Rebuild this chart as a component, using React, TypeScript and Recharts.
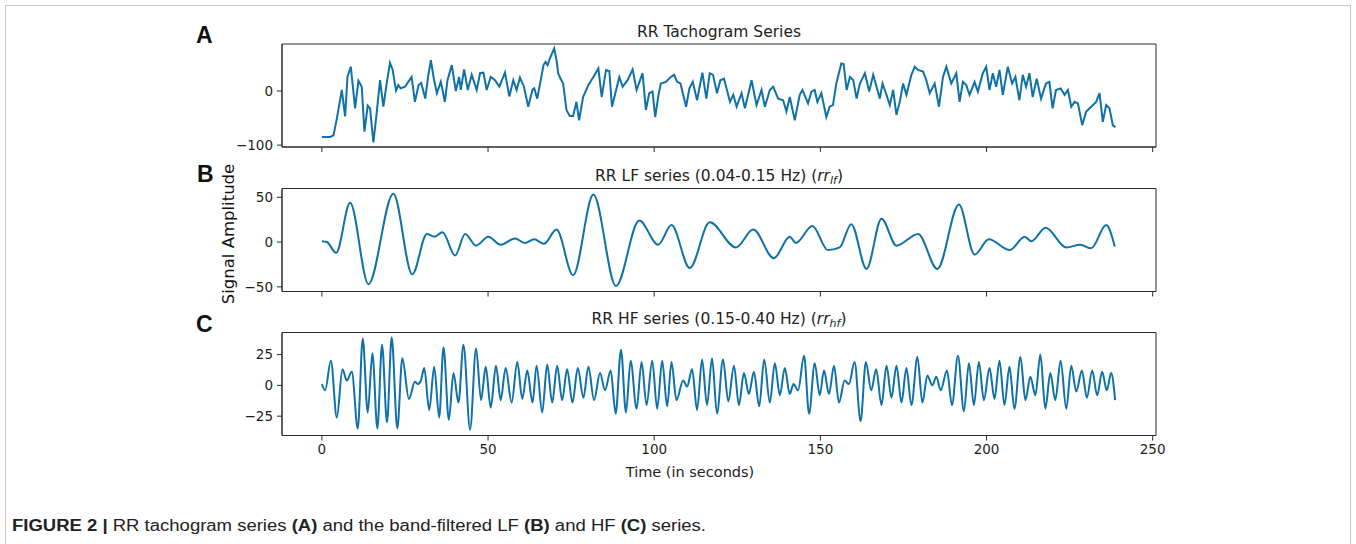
import { LineChart, Line, XAxis, YAxis, ReferenceArea } from 'recharts';

// RR tachogram (A) - read at turning points, seconds / amplitude
const tachoTime = [
  0, 2.5, 3.5, 4.5, 6, 7, 7.7, 8.7, 10, 11, 12, 12.8, 13.8, 14.5, 15.5, 16.5, 17.5, 18.5, 19.5, 20.5,
  21.3, 22.3, 23, 23.7, 25, 26, 27, 28, 29.1, 29.9, 31.1, 32.1, 32.8, 33.6, 34.6, 35.8, 37, 37.8, 39.1, 40.3,
  41.3, 41.8, 42.8, 43.9, 45.1, 46.6, 47.6, 48.6, 49.6, 50.8, 52.1, 53.4, 55.1, 56.4, 57.6, 58.6, 59.6, 60.8, 62.1, 63.4,
  63.9, 64.8, 66.7, 67.3, 67.9, 68.6, 69.9, 70.6, 71.1, 71.8, 72.6, 73.6, 74.6, 75.6, 76.6, 77.4, 78.6, 80.2, 81.7, 83.2,
  84.2, 85.5, 86.5, 87.3, 89.5, 90.5, 92, 93.5, 94.7, 96.5, 97.5, 98.5, 99.5, 100.3, 101.3, 102, 103.5, 105, 106, 106.9,
  107.9, 109.6, 110.6, 111.6, 112.9, 114.5, 115.7, 116.7, 117.7, 118.9, 119.9, 121, 122.8, 123.8, 124.8, 126.3, 127.3, 129.3, 130.8, 132.3,
  133.3, 134.8, 135.8, 137.3, 138.8, 139.8, 140.8, 142.3, 143.8, 144.6, 146.3, 147.3, 148.3, 149.1, 150.3, 151.8, 152.8, 153.8, 154.8, 156.3,
  157, 157.9, 158.9, 159.9, 160.9, 161.9, 163.4, 164.7, 165.9, 166.9, 167.9, 168.7, 169.9, 170.9, 171.9, 172.9, 173.9, 174.9, 175.9, 177.4,
  178.4, 179.4, 180.9, 181.9, 182.9, 184.4, 185.7, 186.9, 187.9, 189.4, 190.9, 191.9, 192.9, 193.9, 194.9, 196.4, 197.4, 198.9, 199.9, 200.9,
  201.9, 202.9, 203.9, 204.9, 206.4, 207.7, 208.7, 209.9, 210.9, 211.9, 212.9, 213.9, 215.1, 216.4, 217.9, 218.9, 219.9, 220.9, 222.3, 223.5,
  224.5, 225.5, 226.5, 227.5, 228.8, 230, 231.5, 233, 234, 235, 236, 237, 238, 238.8,
];
const tachoValue = [
  -85, -85, -82, -51, 2, -47, 26, 45, -32, 19, 8, -75, -27, -32, -95, -40, 20, -29, 14, 52,
  39, 1, 11, 5, 8, 17, 26, -20, 11, 15, -14, 32, 57, 26, -4, 17, -20, 20, 48, 0,
  26, 2, 40, 2, 30, 2, 33, 34, 2, 26, 20, 8, 34, -10, 20, 2, 25, 8, -29, 3,
  5, -14, 48, 54, 48, 60, 79, 57, 33, 23, 14, -35, -46, -46, -20, -54, -11, 11, 26, 42,
  -11, 39, 37, -29, 26, 8, 20, 40, 2, 33, -35, -4, -1, -48, -7, 14, 17, 26, 30, 17,
  14, -29, 5, 17, -17, 34, -14, 33, 30, -4, 20, 23, -20, -7, -29, -4, -32, 20, -26, 2,
  -29, 2, 8, -14, -17, -38, -11, -54, -7, 2, -23, -1, 2, -20, -4, -48, -29, -26, 14, 51,
  50, 2, 26, 20, -14, 14, 33, -1, 30, 8, -14, 14, -7, -26, 2, -44, -20, 14, -7, 30,
  45, 39, 36, 20, -4, 14, -29, 26, 45, 14, 33, -20, 17, 11, -7, 17, -1, 33, 45, 2,
  33, 8, 39, -7, 45, 14, 26, -17, 30, 8, 33, -11, 23, -14, 14, 17, -32, 2, 5, -7,
  2, -29, -20, -23, -63, -38, -29, -20, -4, -57, -26, -32, -63, -67,
];

// LF band (B) - peaks and troughs
const lfTime = [
  0, 1.5, 4.3, 8.5, 14, 21.5, 27.2, 31.6, 33.9, 36.3, 40.1, 43.1, 46.4, 50.1, 53.8, 58.1, 61.1, 63.9, 66.8, 70.6,
  75.6, 81.7, 88.5, 95.5, 101.2, 105.2, 110.7, 116.7, 124.6, 129.8, 136, 140.8, 142.6, 147.6, 152.3, 155.8, 159.3, 163.9, 168.4, 172.9,
  179.4, 185.2, 191.7, 196.4, 200.7, 207, 211.5, 213.5, 217.8, 224, 228.2, 231.5, 236, 238.6,
];
const lfValue = [
  1, 0, -12, 44, -47, 54, -36, 9, 6, 11, -15, 9, -4, 6, -3, 4, -1, 3, -2, 14,
  -37, 53, -49, 24, -3, 19, -29, 22, -6, 14, -18, 6, -1, 18, -9, -6, 20, -30, 26, -4,
  9, -30, 42, -14, 3, -9, 6, 1, 16, -6, -3, -7, 19, -5,
];

// HF band (C) - peaks and troughs
const hfTime = [
  0, 1, 2.7, 4.5, 6.2, 7.5, 9, 10.8, 12.3, 13.8, 15.2, 16.7, 18.1, 19.6, 21, 22.7, 24.2, 26.2, 28, 28.9,
  29.8, 30.8, 32.3, 33.8, 35.3, 36.6, 38.2, 39.6, 41.1, 42.6, 44.6, 46.4, 47.9, 49.3, 50.8, 52.4, 53.8, 55.3, 57.1, 58.8,
  60.3, 61.8, 63.4, 64.6, 66.3, 67.8, 69.3, 70.8, 72.3, 73.8, 75.4, 77, 78.7, 80.2, 81.9, 83.7, 85.2, 86.9, 88.4, 90,
  91.5, 92.9, 94.7, 96.2, 97.7, 99.4, 100.9, 102.4, 103.9, 105.2, 106.7, 108.7, 109.9, 111.4, 112.9, 114.4, 115.9, 117.4, 118.9, 120.7,
  122.3, 124, 125.5, 127, 128.5, 130, 131.6, 133.1, 134.8, 136.3, 137.8, 139.3, 140.8, 141.9, 143.3, 145.1, 146.6, 148.3, 149.8, 151.1,
  152.6, 154.1, 155.6, 157.3, 158.6, 160.3, 162.1, 163.7, 165.3, 166.8, 168.4, 169.9, 171.4, 172.9, 174.4, 175.9, 177.4, 179.2, 180.7, 182.2,
  183.7, 184.9, 186.2, 188.1, 189.6, 191.4, 193.2, 194.7, 196.2, 197.7, 199.2, 200.9, 202.4, 203.9, 205.4, 206.9, 208.4, 210.2, 211.7, 213.2,
  214.7, 216.2, 217.7, 219.2, 220.7, 222.3, 224, 225.5, 227, 228.7, 230.2, 231.8, 233.3, 234.8, 236.2, 237.5, 238.7,
];
const hfValue = [
  1, -4, 20, -26, 13, 4, 11, -35, 38, -22, 26, -35, 33, -30, 39, -35, 22, -11, 3, 1,
  4, 14, -20, 15, -26, 31, -28, 10, -14, 33, -36, 30, -12, 15, -18, 16, -12, 14, -14, 19,
  -11, 12, -14, 16, -22, 17, -14, 16, -12, 13, -14, 14, -10, 15, -12, 10, -4, 12, -23, 29,
  -22, 20, -19, 19, -16, 20, -19, 20, -17, 19, -12, 4, -1, 13, -20, 21, -16, 22, -23, 21,
  -13, 16, -16, 10, -7, 11, -17, 21, -14, 18, -8, 14, -7, 1, -4, 24, -23, 18, -8, 12,
  -7, 16, -14, 4, 1, 19, -29, 19, -4, 13, -16, 16, -10, 16, -14, 14, -16, 23, -14, 8,
  0, 7, -4, 12, -16, 24, -21, 18, -16, 19, -12, 14, -11, 20, -16, 15, -19, 23, -12, 7,
  -8, 25, -19, 10, -12, 20, -19, 16, -5, 12, -10, 12, -8, 11, -4, 10, -12,
];

const xTicks = [0, 50, 100, 150, 200, 250];

const tachoData = tachoTime.map((t, i) => ({ t, v: tachoValue[i] }));
const lfData = lfTime.map((t, i) => ({ t, v: lfValue[i] }));
const hfData = hfTime.map((t, i) => ({ t, v: hfValue[i] }));

const LINE = '#0f71a8';
const AXIS = '#2a2a2a';
const FONT = '"DejaVu Sans", sans-serif';
const PLOT_LEFT = 282;
const PLOT_RIGHT = 1156;
const PLOT_H = 103;
const X_DOMAIN: [number, number] = [-12, 251];

const minus = (v: number) => String(v).replace('-', '\u2212');

interface PanelProps {
  data: { t: number; v: number }[];
  top: number;
  yDomain: [number, number];
  yTicks: number[];
  curve: 'linear' | 'monotone';
  xLabels?: boolean;
}

function Panel({ data, top, yDomain, yTicks, curve, xLabels }: PanelProps) {
  const tickStyle = { fontSize: 13.5, fill: '#1e1e1e', fontFamily: FONT };
  return (
    <div style={{ position: 'absolute', left: 0, top: 0 }}>
      <LineChart
        width={1356}
        height={top + PLOT_H + 40}
        data={data}
        margin={{ top, right: 1356 - PLOT_RIGHT, left: PLOT_LEFT - 60, bottom: 0 }}
      >
        <XAxis
          type="number"
          dataKey="t"
          domain={X_DOMAIN}
          ticks={xTicks}
          interval={0}
          allowDataOverflow
          height={40}
          tickSize={5}
          tickMargin={4}
          stroke={AXIS}
          tick={tickStyle}
          tickFormatter={xLabels ? (v: number) => String(v) : () => ''}
        />
        <YAxis
          type="number"
          domain={yDomain}
          ticks={yTicks}
          interval={0}
          allowDataOverflow
          width={60}
          tickSize={5}
          tickMargin={4}
          stroke={AXIS}
          tick={tickStyle}
          tickFormatter={minus}
        />
        <ReferenceArea
          x1={X_DOMAIN[0]}
          x2={X_DOMAIN[1]}
          y1={yDomain[0]}
          y2={yDomain[1]}
          fill="none"
          stroke={AXIS}
          strokeWidth={1}
          ifOverflow="visible"
        />
        <Line
          type={curve}
          dataKey="v"
          stroke={LINE}
          strokeWidth={2}
          dot={false}
          isAnimationActive={false}
        />
      </LineChart>
    </div>
  );
}

export default function App() {
  const title = { fontFamily: FONT, fontSize: 15.5, fill: '#222' };
  const letter = { fontFamily: '"Liberation Sans", Arial, sans-serif', fontSize: 23, fontWeight: 700, fill: '#111' };
  return (
    <div style={{ position: 'absolute', left: 0, top: 0, width: 1356, height: 544, background: '#fff', overflow: 'hidden' }}>
      <Panel data={tachoData} top={44} yDomain={[-103.5, 87]} yTicks={[-100, 0]} curve="linear" />
      <Panel data={lfData} top={188.5} yDomain={[-55.2, 59.8]} yTicks={[-50, 0, 50]} curve="monotone" />
      <Panel data={hfData} top={332.5} yDomain={[-40.7, 42.9]} yTicks={[-25, 0, 25]} curve="monotone" xLabels />
      <svg width={1356} height={544} style={{ position: 'absolute', left: 0, top: 0, pointerEvents: 'none' }}>
        <rect x={5.5} y={5.5} width={1345} height={600} fill="none" stroke="#c8c8c8" />
        <text x={719} y={36.5} textAnchor="middle" style={title}>RR Tachogram Series</text>
        <text x={719} y={181} textAnchor="middle" style={title}>
          RR LF series (0.04-0.15 Hz) (<tspan fontStyle="italic">rr</tspan>
          <tspan fontStyle="italic" fontSize={11} dy={3}>lf</tspan>
          <tspan dy={-3}>)</tspan>
        </text>
        <text x={719} y={323.5} textAnchor="middle" style={title}>
          RR HF series (0.15-0.40 Hz) (<tspan fontStyle="italic">rr</tspan>
          <tspan fontStyle="italic" fontSize={11} dy={3}>hf</tspan>
          <tspan dy={-3}>)</tspan>
        </text>
        <text x={196} y={43.3} style={letter}>A</text>
        <text x={197} y={181.7} style={letter}>B</text>
        <text x={196} y={331.5} style={letter}>C</text>
        <text
          x={228}
          y={234}
          transform="rotate(-90 228 234)"
          textAnchor="middle"
          dominantBaseline="central"
          style={{ fontFamily: FONT, fontSize: 16.5, fill: '#111' }}
        >
          Signal Amplitude
        </text>
        <text x={690} y={476.5} textAnchor="middle" style={{ fontFamily: FONT, fontSize: 14.5, fill: '#222' }}>
          Time (in seconds)
        </text>
        <text
          x={12}
          y={531}
          textLength={694}
          lengthAdjust="spacingAndGlyphs"
          style={{ fontFamily: '"Liberation Sans Narrow", "Liberation Sans", Arial, sans-serif', fontSize: 16, fill: '#222' }}
        >
          <tspan fontWeight={700}>FIGURE 2 | </tspan>RR tachogram series <tspan fontWeight={700}>(A)</tspan> and the
          band-filtered LF <tspan fontWeight={700}>(B)</tspan> and HF <tspan fontWeight={700}>(C)</tspan> series.
        </text>
      </svg>
    </div>
  );
}
